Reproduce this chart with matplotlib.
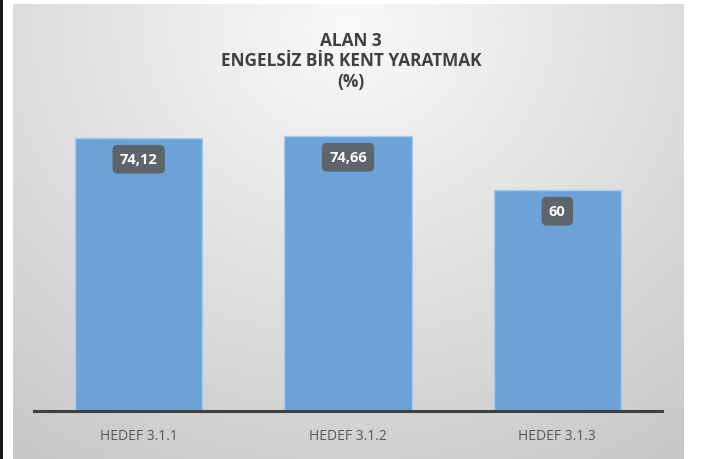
import matplotlib.pyplot as plt
import numpy as np
from matplotlib.patches import Rectangle

# data
categories = ['HEDEF 3.1.1', 'HEDEF 3.1.2', 'HEDEF 3.1.3']
values = [74.12, 74.66, 60]
labels = ['74,12', '74,66', '60']

plt.rcParams['font.family'] = ['Open Sans', 'DejaVu Sans']

W, H = 702, 460
fig = plt.figure(figsize=(W / 100, H / 100), dpi=100)
fig.patch.set_facecolor('white')

# black line at the left edge
fig.add_artist(Rectangle((0, 0), 3 / W, 1, transform=fig.transFigure, color='#1a1a1a', lw=0))

# gradient background of the chart area
bg = fig.add_axes([13 / W, 0, (684 - 13) / W, 1 - 5 / H])
yy, xx = np.mgrid[0:1:300j, 0:1:400j]
r = np.sqrt(((xx - 0.5) / 0.75) ** 2 + ((yy - 0.05) / 1.0) ** 2)
shade = 0.975 - 0.17 * np.clip(r, 0, 1.2)
bg.imshow(shade, cmap='gray', vmin=0, vmax=1, aspect='auto', extent=[0, 1, 1, 0])
bg.set_axis_off()

# plot area
ax = fig.add_axes([34 / W, (H - 412) / H, (662 - 34) / W, (412 - 117.6) / H])
ax.patch.set_alpha(0)
x = np.arange(len(categories))
bars = ax.bar(x, values, width=0.607, color='#6ca2d6', edgecolor='#a9cbee', linewidth=1)
ax.set_xlim(-0.5, 2.5)
ax.set_ylim(0, 80)
ax.set_yticks([])
for s in ['top', 'right', 'left']:
    ax.spines[s].set_visible(False)
ax.spines['bottom'].set_color('#404040')
ax.spines['bottom'].set_linewidth(2.2)
ax.set_xticks(x)
ax.set_xticklabels(categories, color='#595959', fontsize=10)
ax.tick_params(axis='x', length=0, pad=12)

for xi, v, lab in zip(x, values, labels):
    ax.annotate(lab, (xi, v), xytext=(0, -21), textcoords='offset pixels',
                ha='center', va='center', color='white', fontsize=10.5, fontweight='bold',
                bbox=dict(boxstyle='round,pad=0.5,rounding_size=0.35', fc='#5d646b', ec='none'))

title_kw = dict(ha='center', va='center', fontsize=12.4, fontweight='bold', color='#404040')
fig.text(0.5, 1 - 41 / H, 'ALAN 3', **title_kw)
fig.text(0.5, 1 - 61 / H, 'ENGELSİZ BİR KENT YARATMAK', **title_kw)
fig.text(0.5, 1 - 82 / H, '(%)', **title_kw)

fig.savefig('out.png', dpi=100)
